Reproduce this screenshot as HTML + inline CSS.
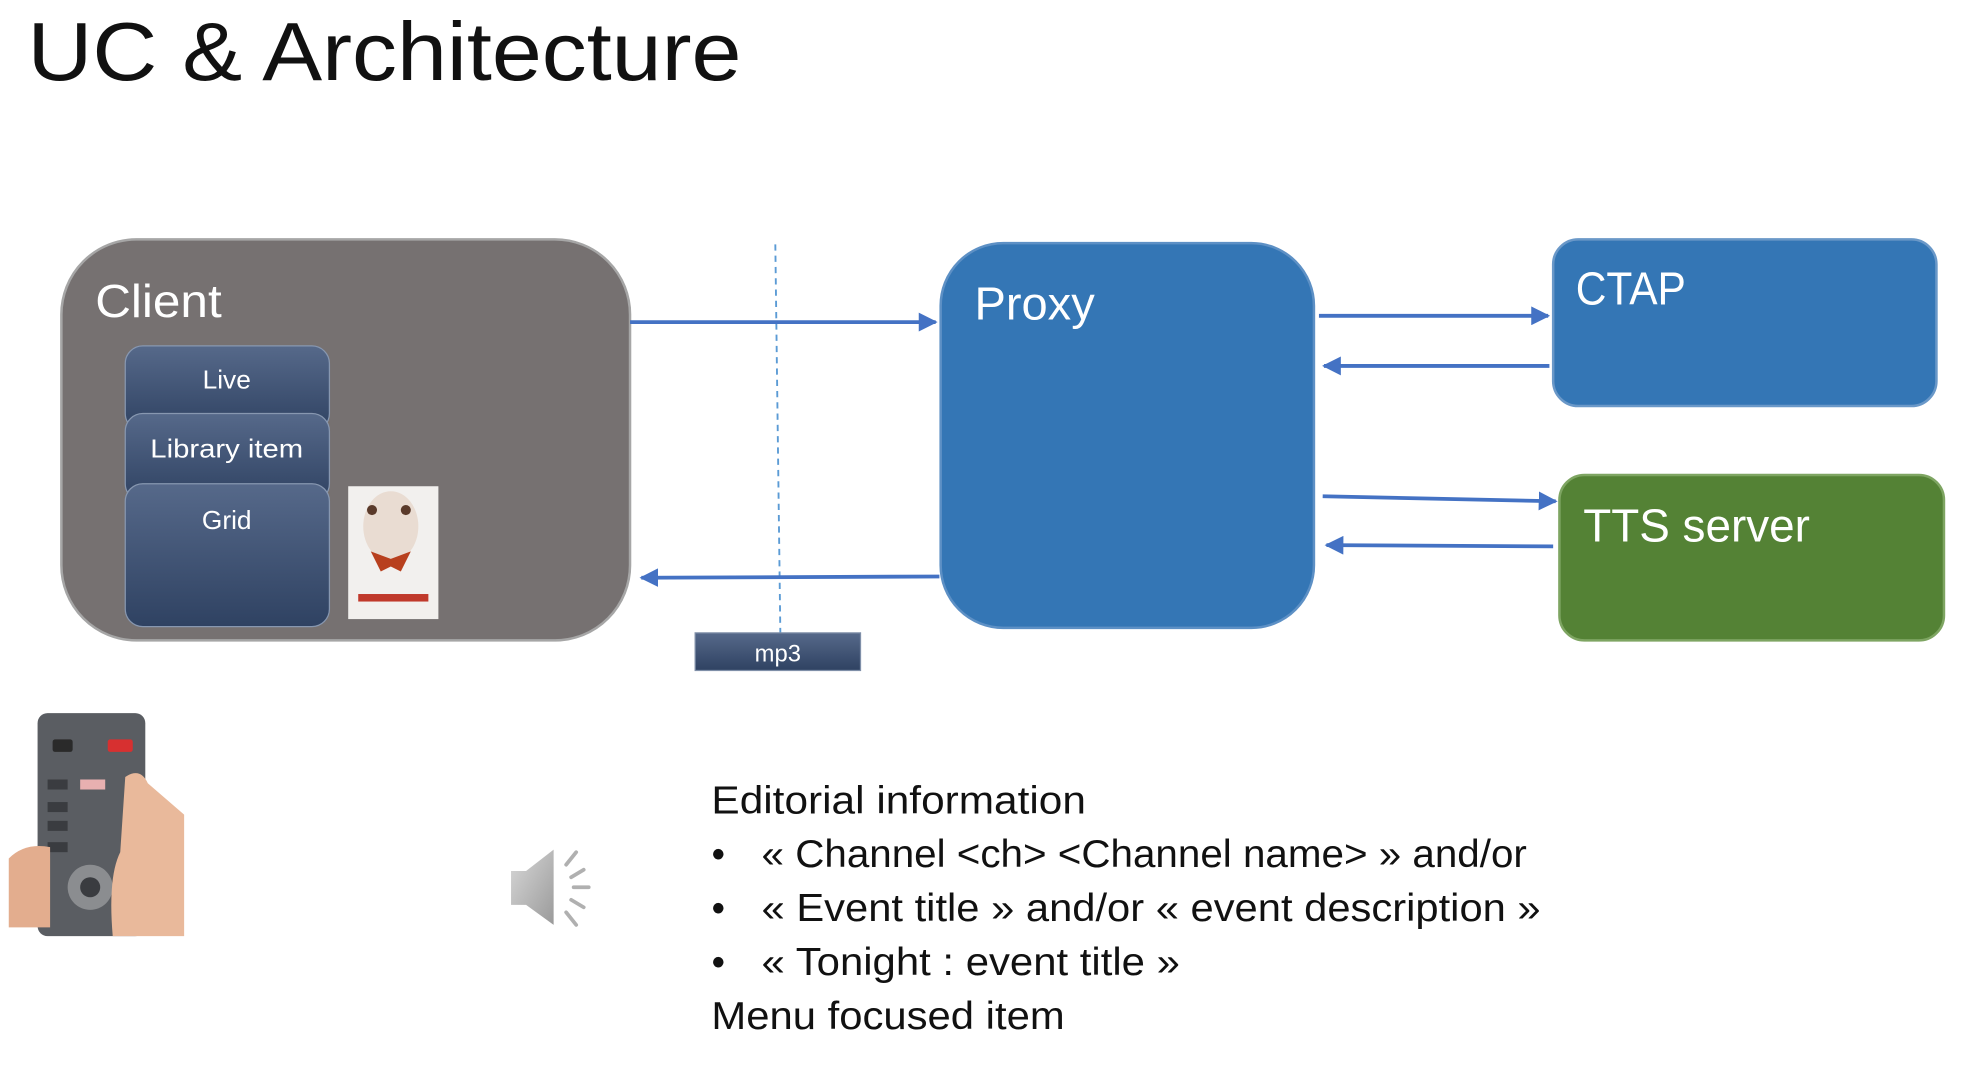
<!DOCTYPE html>
<html><head><meta charset="utf-8"><style>html,body{margin:0;padding:0;background:#fff;overflow:hidden}svg{display:block}</style></head>
<body>
<svg width="1964" height="1074" viewBox="0 0 1568 857" preserveAspectRatio="none" xmlns="http://www.w3.org/2000/svg" font-family="'Liberation Sans', sans-serif">
<defs>
<linearGradient id="g" x1="0" y1="0" x2="0" y2="1"><stop offset="0" stop-color="#56698a"/><stop offset="1" stop-color="#2f4262"/></linearGradient>
<linearGradient id="sp" x1="0" y1="0" x2="1" y2="1"><stop offset="0" stop-color="#d8d8d8"/><stop offset="1" stop-color="#9a9a9a"/></linearGradient>
<marker id="a" viewBox="0 0 10 10" refX="9" refY="5" markerWidth="5" markerHeight="5" orient="auto"><path d="M0,0 L10,5 L0,10 z" fill="#4472c4"/></marker>
</defs>
<text x="22" y="64" font-size="66" fill="#111" textLength="570" lengthAdjust="spacingAndGlyphs">UC &amp; Architecture</text>

<rect x="49" y="191" width="454" height="320" rx="60" fill="#767171" stroke="#a6a6a6" stroke-width="2"/>
<text x="76" y="253" font-size="37" fill="#fff" textLength="101" lengthAdjust="spacingAndGlyphs">Client</text>
<rect x="100" y="276" width="163" height="68" rx="14" fill="url(#g)" stroke="#8797b0"/>
<text x="181" y="310" font-size="21" fill="#fff" text-anchor="middle">Live</text>
<rect x="100" y="330" width="163" height="70" rx="14" fill="url(#g)" stroke="#8797b0"/>
<text x="181" y="365" font-size="21" fill="#fff" text-anchor="middle" textLength="122" lengthAdjust="spacingAndGlyphs">Library item</text>
<rect x="100" y="386" width="163" height="114" rx="14" fill="url(#g)" stroke="#8797b0"/>
<text x="181" y="422" font-size="21" fill="#fff" text-anchor="middle">Grid</text>
<rect x="278" y="388" width="72" height="106" fill="#f2f0ee"/>
<ellipse cx="312" cy="420" rx="22" ry="28" fill="#e9dcd2"/>
<circle cx="297" cy="407" r="4" fill="#5a3a2a"/><circle cx="324" cy="407" r="4" fill="#5a3a2a"/>
<path d="M296,440 L312,446 L328,440 L320,456 L312,452 L304,456 z" fill="#b8401e"/>
<rect x="286" y="474" width="56" height="6" fill="#c0392b"/>

<line x1="619" y1="195" x2="623" y2="505" stroke="#5b9bd5" stroke-width="1.5" stroke-dasharray="5,4"/>
<rect x="555" y="505" width="132" height="30" fill="url(#g)" stroke="#7f8fa8"/>
<text x="621" y="528" font-size="19" fill="#fff" text-anchor="middle">mp3</text>

<rect x="751" y="194" width="298" height="307" rx="50" fill="#3476b5" stroke="#5d90c5" stroke-width="2"/>
<text x="778" y="255" font-size="37" fill="#fff" textLength="96" lengthAdjust="spacingAndGlyphs">Proxy</text>

<rect x="1240" y="191" width="306" height="133" rx="20" fill="#3476b5" stroke="#6a98c8" stroke-width="2"/>
<text x="1258" y="243" font-size="37" fill="#fff" textLength="88" lengthAdjust="spacingAndGlyphs">CTAP</text>
<rect x="1245" y="379" width="307" height="132" rx="20" fill="#548235" stroke="#7ea562" stroke-width="2"/>
<text x="1264" y="432" font-size="37" fill="#fff" textLength="181" lengthAdjust="spacingAndGlyphs">TTS server</text>

<g stroke="#4472c4" stroke-width="3" fill="none" marker-end="url(#a)">
<line x1="503" y1="257" x2="747" y2="257"/>
<line x1="750" y1="460" x2="512" y2="461"/>
<line x1="1053" y1="252" x2="1236" y2="252"/>
<line x1="1237" y1="292" x2="1057" y2="292"/>
<line x1="1056" y1="396" x2="1242" y2="400"/>
<line x1="1240" y1="436" x2="1059" y2="435"/>
</g>

<!-- remote -->
<rect x="7" y="569" width="140" height="178" fill="#fff"/>
<rect x="30" y="569" width="86" height="178" rx="8" fill="#5a5d62"/>
<rect x="42" y="590" width="16" height="10" rx="2" fill="#2a2a2a"/>
<rect x="86" y="590" width="20" height="10" rx="2" fill="#d73030"/>
<g fill="#3a3c40"><rect x="38" y="622" width="16" height="8"/><rect x="38" y="640" width="16" height="8"/><rect x="38" y="655" width="16" height="8"/><rect x="38" y="672" width="16" height="8"/></g>
<rect x="64" y="622" width="20" height="8" fill="#e8b0b0"/>
<circle cx="72" cy="708" r="18" fill="#8b8d90"/><circle cx="72" cy="708" r="8" fill="#3a3c40"/>
<path d="M100,620 Q112,612 118,625 L147,650 L147,747 L90,747 Q86,700 96,680 z" fill="#e9b99b"/>
<path d="M7,685 Q20,672 40,676 L40,740 L7,740 z" fill="#e3ad8e"/>

<!-- speaker -->
<path d="M408,695 L420,695 L442,678 L442,738 L420,722 L408,722 z" fill="url(#sp)"/>
<g stroke="#b0b0b0" stroke-width="3" stroke-linecap="round">
<line x1="452" y1="690" x2="460" y2="680"/><line x1="456" y1="700" x2="466" y2="694"/><line x1="458" y1="708" x2="470" y2="708"/><line x1="456" y1="718" x2="466" y2="724"/><line x1="452" y1="728" x2="460" y2="738"/></g>

<g font-size="31" fill="#111">
<text x="568" y="649" textLength="299" lengthAdjust="spacingAndGlyphs">Editorial information</text>
<text x="568" y="692">•</text><text x="608" y="692" textLength="611" lengthAdjust="spacingAndGlyphs">« Channel &lt;ch&gt; &lt;Channel name&gt; » and/or</text>
<text x="568" y="735">•</text><text x="608" y="735" textLength="622" lengthAdjust="spacingAndGlyphs">« Event title » and/or « event description »</text>
<text x="568" y="778">•</text><text x="608" y="778" textLength="334" lengthAdjust="spacingAndGlyphs">« Tonight : event title »</text>
<text x="568" y="821" textLength="282" lengthAdjust="spacingAndGlyphs">Menu focused item</text>
</g>
</svg>
</body></html>
